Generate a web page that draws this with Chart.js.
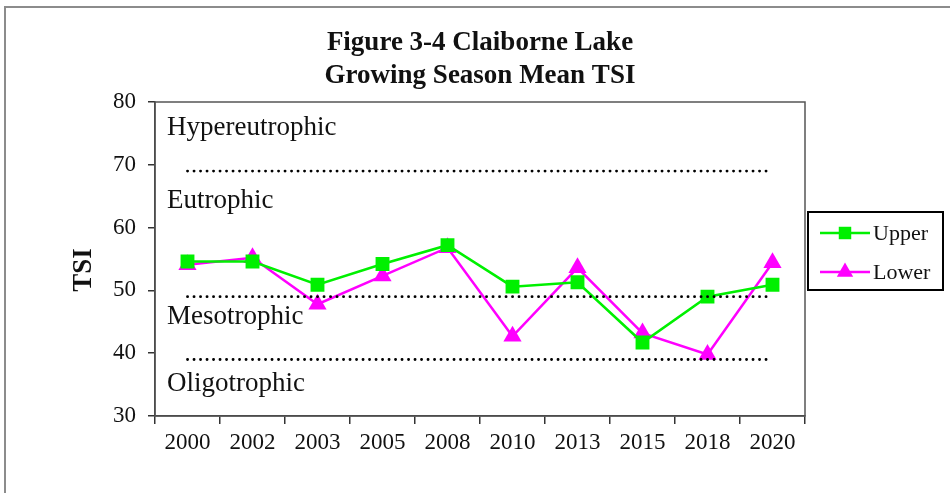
<!DOCTYPE html>
<html lang="en">
  <head>
    <meta charset="UTF-8" />
    <title>Claiborne Lake TSI</title>
    <script src="https://cdn.jsdelivr.net/npm/chart.js"></script>
    <style>
      body {
        margin: 0;
        background: #ffffff;
      }
      /* gray frame, only top and left edges show */
      #frame {
        position: absolute;
        left: 4px;
        top: 6px;
        width: 960px;
        height: 500px;
        border-top: 2px solid #8c8c8c;
        border-left: 2px solid #8c8c8c;
      }
      #chartBox {
        position: absolute;
        left: 0;
        top: 0;
        width: 950px;
        height: 493px;
      }
    </style>
  </head>
  <body>
    <div id="frame"></div>
    <div id="chartBox">
      <canvas id="tsiChart"></canvas>
    </div>

    <script>
      // data
      var years = ["2000", "2002", "2003", "2005", "2008", "2010", "2013", "2015", "2018", "2020"];
      var upper = [54.6, 54.6, 50.9, 54.2, 57.2, 50.6, 51.3, 41.7, 49.0, 50.9];
      var lower = [54.1, 55.2, 47.8, 52.3, 56.8, 42.7, 53.6, 43.2, 39.8, 54.4];
      // trophic class boundaries (dotted lines)
      var boundaries = [69, 49, 39];
      var zoneNames = ["Hypereutrophic", "Eutrophic", "Mesotrophic", "Oligotrophic"];
      var zoneLabelAt = [76, 64.4, 45.9, 35.3];
      var titleLines = ["Figure 3-4 Claiborne Lake", "Growing Season Mean TSI"];

      var serif = "'Liberation Serif', 'Times New Roman', serif";

      var datasets = [];
      boundaries.forEach(function (b) {
        datasets.push({
          label: "boundary",
          data: years.map(function () {
            return b;
          }),
          borderColor: "#000000",
          borderWidth: 2.8,
          borderDash: [0.1, 6.4],
          borderCapStyle: "round",
          pointRadius: 0,
          pointHoverRadius: 0,
          fill: false,
        });
      });
      datasets.push({
        label: "Upper",
        data: upper,
        borderColor: "#00f000",
        backgroundColor: "#00f000",
        borderWidth: 2.5,
        pointStyle: "rect",
        pointRadius: 9.8,
        pointBorderWidth: 0,
        tension: 0,
      });
      datasets.push({
        label: "Lower",
        data: lower,
        borderColor: "#ff00ff",
        backgroundColor: "#ff00ff",
        borderWidth: 2.5,
        pointStyle: "triangle",
        pointRadius: 10.5,
        pointBorderWidth: 0,
        tension: 0,
      });

      // draws title, zone names, axis title, plot frame and legend box
      var decorations = {
        id: "decorations",
        afterDraw: function (chart) {
          var ctx = chart.ctx;
          var area = chart.chartArea;
          var y = chart.scales.y;
          var midX = (area.left + area.right) / 2;
          ctx.save();

          // plot frame
          ctx.strokeStyle = "#555555";
          ctx.lineWidth = 1.5;
          ctx.strokeRect(area.left, area.top, area.right - area.left, area.bottom - area.top);

          // title
          ctx.fillStyle = "#111111";
          ctx.textAlign = "center";
          ctx.textBaseline = "middle";
          ctx.font = "bold 27px " + serif;
          ctx.fillText(titleLines[0], midX, 43);
          ctx.fillText(titleLines[1], midX, 76);

          // zone names
          ctx.textAlign = "left";
          ctx.font = "27px " + serif;
          zoneNames.forEach(function (name, i) {
            ctx.fillText(name, area.left + 12, y.getPixelForValue(zoneLabelAt[i]) + 1);
          });

          // y axis title
          ctx.save();
          ctx.translate(84, 270);
          ctx.rotate(-Math.PI / 2);
          ctx.textAlign = "center";
          ctx.font = "bold 27px " + serif;
          ctx.fillText("TSI", 0, 0);
          ctx.restore();

          // legend
          var lx = area.right + 3;
          var ly = 212;
          ctx.strokeStyle = "#000000";
          ctx.lineWidth = 2;
          ctx.strokeRect(lx, ly, 135, 78);
          var entries = chart.data.datasets.filter(function (d) {
            return d.label !== "boundary";
          });
          entries.forEach(function (d, i) {
            var ey = ly + 21 + i * 39;
            ctx.strokeStyle = d.borderColor;
            ctx.lineWidth = 2.5;
            ctx.beginPath();
            ctx.moveTo(lx + 12, ey);
            ctx.lineTo(lx + 62, ey);
            ctx.stroke();
            ctx.fillStyle = d.backgroundColor;
            Chart.helpers.drawPoint(ctx, { pointStyle: d.pointStyle, radius: d.pointRadius * 0.9, borderWidth: 0 }, lx + 37, ey);
            ctx.fillStyle = "#111111";
            ctx.textAlign = "left";
            ctx.font = "22px " + serif;
            ctx.fillText(d.label, lx + 65, ey + 1);
          });
          ctx.restore();
        },
      };

      var ctx = document.getElementById("tsiChart").getContext("2d");
      var tsiChart = new Chart(ctx, {
        type: "line",
        data: { labels: years, datasets: datasets },
        options: {
          responsive: true,
          maintainAspectRatio: false,
          animation: false,
          layout: { padding: { top: 102, right: 145, left: 0, bottom: 0 } },
          plugins: {
            legend: { display: false },
            title: { display: false },
            tooltip: { enabled: false },
          },
          scales: {
            x: {
              offset: true,
              afterFit: function (scale) {
                scale.height = 77;
              },
              grid: {
                offset: true,
                drawOnChartArea: false,
                drawTicks: true,
                tickLength: 8,
                color: "#333333",
                lineWidth: 1.5,
              },
              border: { color: "#333333", width: 1.5 },
              ticks: {
                color: "#111111",
                font: { family: serif, size: 23 },
                padding: 5,
                maxRotation: 0,
              },
            },
            y: {
              min: 30,
              max: 80,
              afterFit: function (scale) {
                scale.width = 155;
              },
              ticks: {
                stepSize: 10,
                color: "#111111",
                font: { family: serif, size: 23 },
                padding: 12,
              },
              grid: {
                drawOnChartArea: false,
                drawTicks: true,
                tickLength: 7,
                color: "#333333",
                lineWidth: 1.5,
              },
              border: { color: "#333333", width: 1.5 },
            },
          },
        },
        plugins: [decorations],
      });
    </script>
  </body>
</html>
